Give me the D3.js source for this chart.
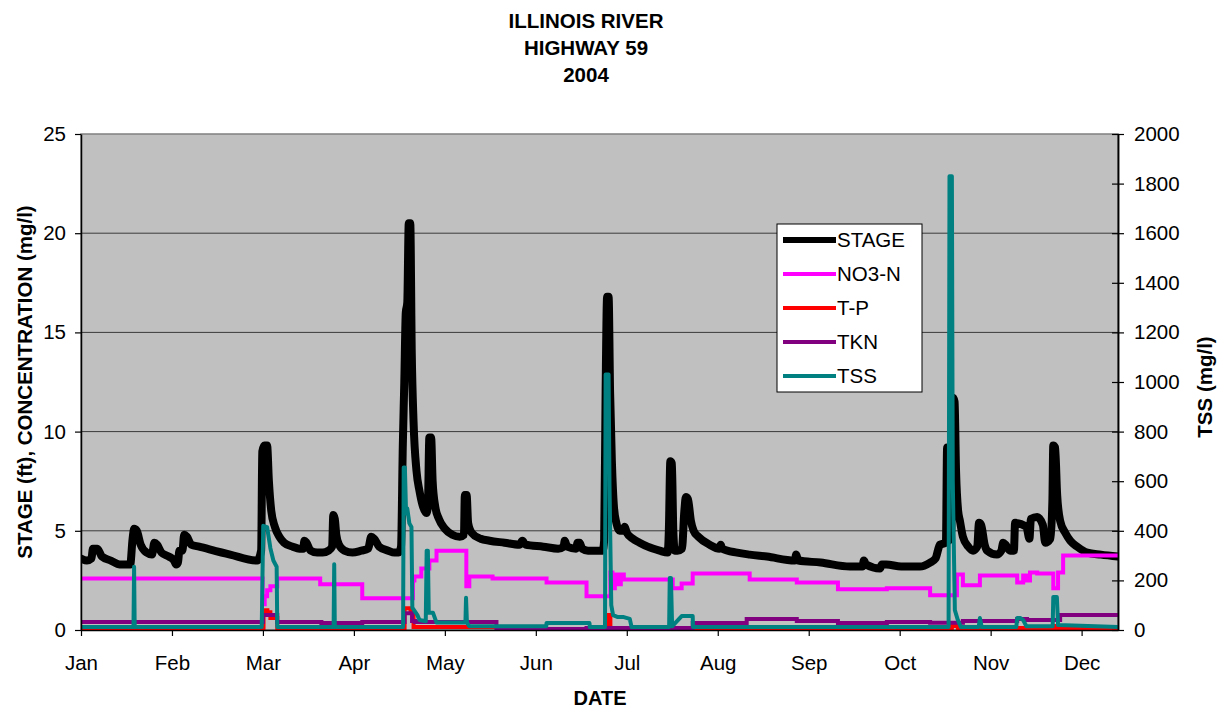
<!DOCTYPE html>
<html>
<head>
<meta charset="utf-8">
<script src="https://cdn.jsdelivr.net/npm/d3@7/dist/d3.min.js"></script>
<style>
body { margin: 0; background: #fff; }
text { font-family: Arial, "Liberation Sans", sans-serif; fill: #000; }
</style>
</head>
<body>
<div id="chart"></div>
<script>
// month labels, ticks spaced evenly (as on the original axis)
const months = ['Jan', 'Feb', 'Mar', 'Apr', 'May', 'Jun', 'Jul', 'Aug', 'Sep', 'Oct', 'Nov', 'Dec'];
const leftTicks = [0, 5, 10, 15, 20, 25];
const rightTicks = [0, 200, 400, 600, 800, 1000, 1200, 1400, 1600, 1800, 2000];

// [day, ft]
const stageData = [
  [0,3.6],[2,3.5],[3.5,3.6],[4,4.1],[5.5,4.1],[7,3.7],[10,3.5],[13,3.3],[16.5,3.3],[17.3,4.6],[17.8,5.1],[18.7,5.0],
  [20,4.3],[22,3.9],[23.8,3.8],[24.6,4.4],[25.5,4.3],[27,3.9],[29.5,3.7],[31.2,3.5],[31.9,3.3],[32.5,3.4],[33,4.0],
  [34,4.0],[34.6,4.8],[35.5,4.7],[37,4.3],[39.6,4.2],[50,3.8],[59.1,3.5],
  [60.4,4.0],[60.8,9.0],[61.5,9.3],[62.4,9.3],[63,7.5],[63.8,6.0],[65,5.2],[66.5,4.7],[68.1,4.4],[71,4.2],[73.2,4.1],
  [74.5,4.1],[74.9,4.5],[75.6,4.4],[77,4.0],[79.2,3.9],[81,3.9],[83,4.0],[84.2,4.2],[84.6,5.8],[85.1,5.6],[85.6,4.8],
  [86.5,4.3],[88.3,4.0],[91,3.9],[94,4.0],[96.3,4.1],[97.3,4.7],[98.3,4.6],[100,4.2],[103,4.0],[105.1,3.9],[106.5,3.9],
  [107.3,4.2],[107.9,9.3],[108.4,12.5],[108.9,16.0],[109.4,16.5],[109.9,20.5],[110.4,20.5],[110.9,14],[111.5,10.5],
  [112.5,8.0],[113.5,7.0],[114.5,6.3],[115.8,5.9],[116.3,6.2],[116.8,9.7],[117.4,9.7],[117.9,7.5],[118.8,6.2],[120,5.6],
  [122,5.1],[124.5,4.8],[127,4.7],[128.4,4.8],[128.7,6.8],[129.3,6.8],[129.8,5.4],[131,4.9],[134,4.6],[137,4.5],
  [142,4.4],[147,4.3],[148,4.5],[149,4.3],[155,4.2],[160,4.1],[161.8,4.2],[162.2,4.5],[163,4.2],[166,4.1],[166.5,4.4],
  [167.2,4.4],[168,4.1],[170,4.0],[174.9,4.0],
  [175.4,4.5],[175.9,12],[176.4,16.8],[176.9,16.8],[177.4,12],[178,8.5],[178.7,6.2],[179.5,5.4],[180.6,5.0],[181.8,5.0],
  [182.3,5.2],[183,4.9],[185,4.6],[187.3,4.4],[190,4.2],[194,4.0],[196.7,3.9],[197.1,5],[197.6,8.5],[198.1,8.4],
  [198.6,5],[199.1,4.0],[200,4.0],[201.5,4.1],[202.3,6.0],[202.8,6.7],[203.5,6.6],[204.5,5.5],[205.4,5.0],[207,4.7],
  [210.8,4.3],[214,4.1],[214.5,4.3],[215,4.1],[220,3.9],[224.2,3.8],[230,3.7],[239.3,3.5],[239.8,3.8],[240.5,3.5],
  [248,3.4],[257.8,3.2],[262,3.2],[262.5,3.5],[263.2,3.3],[267.9,3.1],[268.5,3.3],[270,3.3],[275,3.2],[281.3,3.2],
  [284.7,3.4],[286.5,3.6],[288,4.3],[290,4.4],[290.4,9.2],[290.8,4.5],[291.8,5],[292.4,11.7],[292.9,11.5],[293.4,8],
  [294.1,6.0],[294.7,5.5],[295.7,4.7],[297.5,4.2],[299.1,4.0],[300.5,4.2],[301.1,5.4],[301.8,5.3],[303,4.3],[303.8,4.0],
  [307.1,3.8],[308.6,4.0],[309.2,4.4],[310,4.3],[311.5,4.0],[312.8,4.0],[313.2,5.4],[317,5.2],[318,4.6],[318.5,5.6],
  [320.6,5.7],[322.5,5.3],[323.3,4.4],[325,4.6],[325.7,6.5],[326,9.3],[326.6,9.2],[327.3,6.8],[328.3,5.5],[330,4.9],
  [331.7,4.5],[334,4.2],[337.4,3.9],[342,3.8],[347.7,3.7]
];

// [day, mg/l], stepped lab values
const no3Data = [
  [0,2.6],[60.9,1.3],[61.6,1.7],[62.4,2.0],[63.5,2.2],[65.8,2.6],[80.2,2.3],[94.3,1.6],[111.3,2.5],[111.8,2.7],
  [114.1,3.1],[116.8,3.5],[119.2,4.0],[129.2,2.2],[130.2,2.7],[138,2.6],[156.1,2.4],[169.5,1.7],[177.5,2.9],[178.2,2.1],
  [179,2.8],[180,2.3],[181,2.8],[182,2.55],[198.4,2.1],[201.4,2.35],[205.1,2.85],[224.2,2.55],[240,2.4],[253.8,2.05],
  [270.2,2.1],[284.7,1.75],[293.7,2.8],[295.7,2.25],[301.4,2.75],[313.9,2.4],[315.9,2.75],[317.2,2.5],[318.2,2.9],
  [320.6,2.85],[326.0,2.1],[327.6,2.9],[329.3,3.75],[347.7,3.75]
];
const tpData = [
  [0,0.05],[60.8,0.05],[61.2,1.0],[62.5,0.9],[63.5,0.6],[65.8,0.05],[108.1,0.05],[108.5,1.1],[110.5,0.9],[111.5,0.15],
  [140,0.15],[147,0.05],[176,0.05],[176.5,0.75],[177.5,0.1],[223.2,0.1],[270,0.05],[292,0.2],[294,0.1],[326,0.2],
  [327,0.05],[347.7,0.05]
];
const tknData = [
  [0,0.4],[61,0.75],[65.8,0.4],[80.6,0.35],[94.3,0.4],[108.5,0.85],[111,0.45],[112,0.4],[139.3,0.05],[169.5,0.1],
  [205.1,0.35],[223.2,0.55],[240,0.45],[253.8,0.35],[270.2,0.4],[284.7,0.37],[295.7,0.45],[313.9,0.55],[317.2,0.5],
  [328.3,0.75],[347.7,0.75]
];
// [day, TSS mg/l] on the right axis
const tssData = [
  [0,12],[17.6,12],[17.8,255],[18.0,12],[60.6,12],[61.1,420],[62.4,415],[63.5,330],[64.5,280],[65.6,255],[65.8,12],
  [84.7,12],[84.9,265],[85.1,12],[108,12],[108.2,655],[108.6,655],[109,470],[109.4,490],[110.1,430],[110.8,415],
  [111.1,90],[112.8,60],[113.5,40],[115.6,35],[115.9,320],[116.3,320],[116.6,70],[118,70],[119.2,30],[128.9,30],
  [129.1,130],[129.4,30],[130.2,15],[156,15],[156.1,28],[170.5,28],[170.6,12],[175.7,12],[175.9,1030],[176.9,1030],
  [177.2,585],[177.8,100],[178.4,60],[180,52],[182,52],[184,45],[184.6,12],[197.2,12],[197.4,210],[197.8,210],
  [198.2,15],[201.4,56],[205.1,56],[205.2,12],[290.9,12],[291.2,1830],[292.0,1830],[292.3,600],[293,80],[294,40],
  [295,12],[301,12],[301.4,48],[302,12],[313.6,12],[313.9,48],[315,48],[315.9,40],[317,15],[325.8,15],[326.0,133],
  [327.2,133],[327.6,20],[347.7,12]
];

const W = 1218, H = 709;
const plotL = 81, plotR = 1118, plotT = 134, plotB = 630;

const svg = d3.select('#chart').append('svg')
    .attr('width', W)
    .attr('height', H);

const x = d3.scaleLinear().domain([0, 347.7]).range([plotL, plotR]);
const y = d3.scaleLinear().domain([0, 25]).range([plotB, plotT]);
const y2 = d3.scaleLinear().domain([0, 2000]).range([plotB, plotT]);

svg.append('defs').append('clipPath').attr('id', 'plot')
    .append('rect').attr('x', plotL).attr('y', plotT).attr('width', plotR - plotL).attr('height', plotB - plotT);

// plot area
svg.append('rect')
    .attr('x', plotL).attr('y', plotT)
    .attr('width', plotR - plotL).attr('height', plotB - plotT)
    .style('fill', '#c0c0c0')
    .style('stroke', '#808080')
    .style('stroke-width', 1.5);

svg.append('g').selectAll('line')
    .data(leftTicks.slice(1, -1))
    .enter().append('line')
    .attr('x1', plotL).attr('x2', plotR)
    .attr('y1', d => y(d)).attr('y2', d => y(d))
    .style('stroke', '#3a3a3a')
    .style('stroke-width', 1);

// series
const series = svg.append('g').attr('clip-path', 'url(#plot)');

const stageLine = d3.line().x(d => x(d[0])).y(d => y(d[1])).curve(d3.curveMonotoneX);
const stepLine = d3.line().x(d => x(d[0])).y(d => y(d[1])).curve(d3.curveStepAfter);
const tssLine = d3.line().x(d => x(d[0])).y(d => y2(d[1]));

series.append('path').datum(stageData).attr('d', stageLine)
    .style('fill', 'none').style('stroke', '#000').style('stroke-width', 8)
    .style('stroke-linejoin', 'round').style('stroke-linecap', 'round');
series.append('path').datum(no3Data).attr('d', stepLine)
    .style('fill', 'none').style('stroke', '#ff00ff').style('stroke-width', 4);
series.append('path').datum(tpData).attr('d', stepLine)
    .style('fill', 'none').style('stroke', '#ff0000').style('stroke-width', 4);
series.append('path').datum(tknData).attr('d', stepLine)
    .style('fill', 'none').style('stroke', '#800080').style('stroke-width', 4);
series.append('path').datum(tssData).attr('d', tssLine)
    .style('fill', 'none').style('stroke', '#008080').style('stroke-width', 4)
    .style('stroke-linejoin', 'round');

// axes
const fs = '20.5px';
const monthDays = months.map((m, i) => i * 30.5);

svg.append('g')
    .attr('transform', `translate(0,${plotB})`)
    .call(d3.axisBottom(x).tickValues(monthDays).tickFormat((d, i) => months[i])
        .tickSizeInner(6).tickSizeOuter(0).tickPadding(19));

svg.append('g')
    .attr('transform', `translate(${plotL},0)`)
    .call(d3.axisLeft(y).tickValues(leftTicks).tickSizeInner(6).tickSizeOuter(0).tickPadding(9));

svg.append('g')
    .attr('transform', `translate(${plotR},0)`)
    .call(d3.axisRight(y2).tickValues(rightTicks).tickFormat(d3.format('d'))
        .tickSizeInner(6).tickSizeOuter(0).tickPadding(10));

svg.append('g')
    .attr('transform', `translate(${plotR},0)`)
    .call(d3.axisRight(y2).tickValues(rightTicks).tickSizeInner(-6).tickSizeOuter(0).tickFormat(''));

svg.selectAll('.domain').style('stroke', '#000').style('stroke-width', 1.5);
svg.selectAll('.tick line').style('stroke', '#000').style('stroke-width', 1.2);
svg.selectAll('.tick text')
    .style('font-size', fs)
    .style('font-family', 'Arial, "Liberation Sans", sans-serif')
    .style('fill', '#000');

// titles
const title = ['ILLINOIS RIVER', 'HIGHWAY 59', '2004'];
svg.append('g').selectAll('text')
    .data(title)
    .enter().append('text')
    .attr('x', 586)
    .attr('y', (d, i) => 28 + i * 27)
    .attr('text-anchor', 'middle')
    .style('font-size', '20.5px')
    .style('font-weight', 'bold')
    .text(d => d);

svg.append('text')
    .attr('transform', 'translate(32,382) rotate(-90)')
    .attr('text-anchor', 'middle')
    .style('font-size', '20.5px')
    .style('font-weight', 'bold')
    .text('STAGE (ft), CONCENTRATION (mg/l)');

svg.append('text')
    .attr('transform', 'translate(1212,387) rotate(-90)')
    .attr('text-anchor', 'middle')
    .style('font-size', '20.5px')
    .style('font-weight', 'bold')
    .text('TSS (mg/l)');

svg.append('text')
    .attr('x', 600).attr('y', 705)
    .attr('text-anchor', 'middle')
    .style('font-size', '20px')
    .style('font-weight', 'bold')
    .text('DATE');

// legend
const legendItems = [
    { name: 'STAGE', color: '#000', w: 6 },
    { name: 'NO3-N', color: '#ff00ff', w: 4 },
    { name: 'T-P', color: '#ff0000', w: 4 },
    { name: 'TKN', color: '#800080', w: 4 },
    { name: 'TSS', color: '#008080', w: 4 }
];
const legend = svg.append('g').attr('transform', 'translate(777,224)');
legend.append('rect')
    .attr('width', 145).attr('height', 168)
    .style('fill', '#fff').style('stroke', '#000').style('stroke-width', 1);
const rows = legend.selectAll('g.row')
    .data(legendItems)
    .enter().append('g')
    .attr('class', 'row')
    .attr('transform', (d, i) => `translate(0,${16 + i * 34})`);
rows.append('line')
    .attr('x1', 6).attr('x2', 59)
    .style('stroke', d => d.color)
    .style('stroke-width', d => d.w);
rows.append('text')
    .attr('x', 60).attr('dy', '0.36em')
    .style('font-size', '20.5px')
    .text(d => d.name);
</script>
</body>
</html>
